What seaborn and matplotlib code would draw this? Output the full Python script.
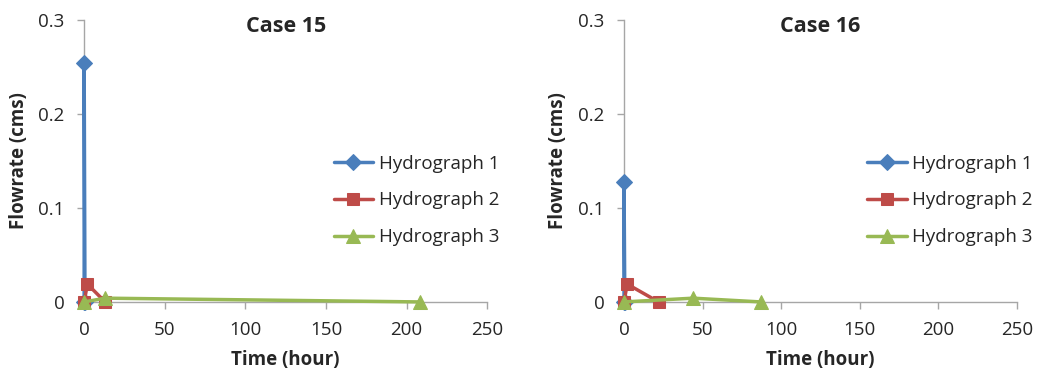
import matplotlib
matplotlib.use("Agg")
import matplotlib.pyplot as plt
import seaborn as sns
import pandas as pd

# Data
series_names = ["Hydrograph 1", "Hydrograph 2", "Hydrograph 3"]

c15_h1_t = [0, 0, 0.5]
c15_h1_q = [0.0, 0.254, 0.0]
c15_h2_t = [0, 2, 13]
c15_h2_q = [0.0, 0.019, 0.0]
c15_h3_t = [0, 13, 208]
c15_h3_q = [0.0, 0.004, 0.0]

c16_h1_t = [0, 0, 0.5]
c16_h1_q = [0.0, 0.128, 0.0]
c16_h2_t = [0, 2, 22]
c16_h2_q = [0.0, 0.019, 0.0]
c16_h3_t = [0, 44, 87]
c16_h3_q = [0.0, 0.004, 0.0]

titles = ["Case 15", "Case 16"]
x_ticks = [0, 50, 100, 150, 200, 250]
y_ticks = [0, 0.1, 0.2, 0.3]
y_tick_labels = ["0", "0.1", "0.2", "0.3"]

sns.set_theme(style="white")
plt.rcParams["font.family"] = ["Open Sans", "DejaVu Sans"]

colors = ["#4A7EBB", "#BE4B48", "#98B954"]
markers = ["D", "s", "^"]
msizes = [8, 9, 10]
fs = 13.5

fig = plt.figure(figsize=(10.39, 3.76), dpi=100)
ax1 = fig.add_axes([0.081, 0.197, 0.388, 0.75])
ax2 = fig.add_axes([0.6006, 0.197, 0.378, 0.75])

cases = [
    [(c15_h1_t, c15_h1_q), (c15_h2_t, c15_h2_q), (c15_h3_t, c15_h3_q)],
    [(c16_h1_t, c16_h1_q), (c16_h2_t, c16_h2_q), (c16_h3_t, c16_h3_q)],
]

for ax, case, title in zip([ax1, ax2], cases, titles):
    for i, (t, q) in enumerate(case):
        df = pd.DataFrame({"t": t, "q": q})
        sns.lineplot(data=df, x="t", y="q", ax=ax, sort=False, estimator=None,
                     color=colors[i], marker=markers[i], markersize=msizes[i],
                     markeredgecolor=colors[i], linewidth=2.5,
                     label=series_names[i], clip_on=False, zorder=3 + i)
    ax.set_xlim(0, 250)
    ax.set_ylim(0, 0.3)
    ax.set_xticks(x_ticks)
    ax.set_xticklabels([str(v) for v in x_ticks], fontsize=fs)
    ax.set_yticks(y_ticks)
    ax.set_yticklabels(y_tick_labels, fontsize=fs)
    for s in ["top", "right"]:
        ax.spines[s].set_visible(False)
    for s in ["left", "bottom"]:
        ax.spines[s].set_color("#A6A6A6")
        ax.spines[s].set_linewidth(1)
    ax.tick_params(axis="both", which="major", direction="out", length=5,
                   color="#A6A6A6", width=1, bottom=True, left=True, pad=9)
    ax.set_xlabel("Time (hour)", fontsize=fs, fontweight="bold", labelpad=8)
    ax.set_ylabel("Flowrate (cms)", fontsize=fs, fontweight="bold", labelpad=7)
    ax.text(0.5, 1.015, title, transform=ax.transAxes, ha="center", va="top",
            fontsize=15.5, fontweight="bold")
    ax.legend(loc="center left", bbox_to_anchor=(0.6, 0.36), frameon=False,
              fontsize=fs, handlelength=2.1, labelspacing=1.0, handletextpad=0.3,
              borderaxespad=0)

fig.savefig("out.png", dpi=100)
